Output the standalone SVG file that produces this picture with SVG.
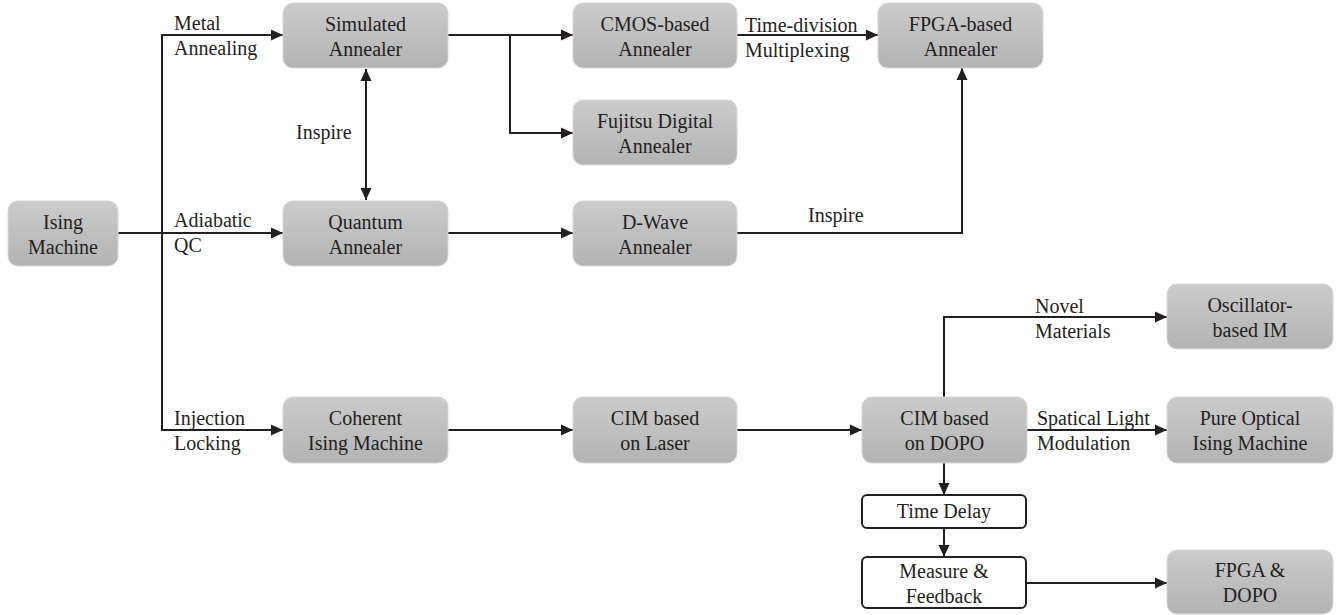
<svg xmlns="http://www.w3.org/2000/svg" width="1342" height="615" viewBox="0 0 1342 615" font-family="'Liberation Serif', 'DejaVu Serif', serif">
<defs>
<linearGradient id="g" x1="0" y1="0" x2="0" y2="1">
<stop offset="0" stop-color="#cbcbcc"/>
<stop offset="1" stop-color="#b3b3b4"/>
</linearGradient>
<marker id="ah" markerWidth="13" markerHeight="12" refX="12" refY="6" orient="auto-start-reverse" markerUnits="userSpaceOnUse">
<path d="M0,0.5 L12,6 L0,11.5 z" fill="#231f20"/>
</marker>
</defs>
<style>
.n{fill:url(#g);stroke:#d6d6d6;stroke-width:1}
.w{fill:#fff;stroke:#231f20;stroke-width:2}
text{font-family:'Liberation Serif','DejaVu Serif',serif;font-size:20px;fill:#231f20}
.c{text-anchor:middle}
.e{fill:none;stroke:#231f20;stroke-width:2}
.a{marker-end:url(#ah)}
</style>
<g id="connectors">
<path class="e" d="M118,233 H162"/>
<path class="e a" d="M162,233 H283"/>
<path class="e a" d="M162,233 V35 H283"/>
<path class="e a" d="M162,233 V430 H283"/>
<path class="e" d="M366,69 V200" marker-start="url(#ah)" marker-end="url(#ah)"/>
<path class="e a" d="M448,35 H573"/>
<path class="e a" d="M510,35 V133 H573"/>
<path class="e a" d="M737,35 H878"/>
<path class="e a" d="M448,233 H573"/>
<path class="e a" d="M737,233 H962 V68"/>
<path class="e a" d="M448,430 H573"/>
<path class="e a" d="M737,430 H862"/>
<path class="e a" d="M944,397 V317 H1167"/>
<path class="e a" d="M1027,430 H1167"/>
<path class="e a" d="M944,463 V495"/>
<path class="e a" d="M944,528 V557"/>
<path class="e a" d="M1027,583 H1167"/>
<text x="174" y="30">Metal</text>
<text x="174" y="55">Annealing</text>
<text x="174" y="227">Adiabatic</text>
<text x="174" y="252">QC</text>
<text x="174" y="425">Injection</text>
<text x="174" y="450">Locking</text>
<text x="296" y="139">Inspire</text>
<text x="745" y="32">Time-division</text>
<text x="745" y="57">Multiplexing</text>
<text x="808" y="222">Inspire</text>
<text x="1035" y="313">Novel</text>
<text x="1035" y="338">Materials</text>
<text x="1037" y="425">Spatical Light</text>
<text x="1037" y="450">Modulation</text>
</g>
<g id="ising">
<rect class="n" x="8" y="201" width="110" height="65" rx="10"/>
<text class="c" x="63" y="229">Ising</text>
<text class="c" x="63" y="254">Machine</text>
</g>
<g id="simulated">
<rect class="n" x="283" y="3" width="165" height="65" rx="10"/>
<text class="c" x="365.5" y="31">Simulated</text>
<text class="c" x="365.5" y="56">Annealer</text>
</g>
<g id="quantum">
<rect class="n" x="283" y="201" width="165" height="65" rx="10"/>
<text class="c" x="365.5" y="229">Quantum</text>
<text class="c" x="365.5" y="254">Annealer</text>
</g>
<g id="coherent">
<rect class="n" x="283" y="397" width="165" height="66" rx="10"/>
<text class="c" x="365.5" y="425">Coherent</text>
<text class="c" x="365.5" y="450">Ising Machine</text>
</g>
<g id="cmos">
<rect class="n" x="573" y="3" width="164" height="65" rx="10"/>
<text class="c" x="655" y="31">CMOS-based</text>
<text class="c" x="655" y="56">Annealer</text>
</g>
<g id="fujitsu">
<rect class="n" x="573" y="100" width="164" height="65" rx="10"/>
<text class="c" x="655" y="128">Fujitsu Digital</text>
<text class="c" x="655" y="153">Annealer</text>
</g>
<g id="dwave">
<rect class="n" x="573" y="201" width="164" height="65" rx="10"/>
<text class="c" x="655" y="229">D-Wave</text>
<text class="c" x="655" y="254">Annealer</text>
</g>
<g id="laser">
<rect class="n" x="573" y="397" width="164" height="66" rx="10"/>
<text class="c" x="655" y="425">CIM based</text>
<text class="c" x="655" y="450">on Laser</text>
</g>
<g id="fpga">
<rect class="n" x="878" y="3" width="165" height="65" rx="10"/>
<text class="c" x="960.5" y="31">FPGA-based</text>
<text class="c" x="960.5" y="56">Annealer</text>
</g>
<g id="dopo">
<rect class="n" x="862" y="397" width="165" height="66" rx="10"/>
<text class="c" x="944.5" y="425">CIM based</text>
<text class="c" x="944.5" y="450">on DOPO</text>
</g>
<g id="oscillator">
<rect class="n" x="1167" y="284" width="166" height="65" rx="10"/>
<text class="c" x="1250" y="312">Oscillator-</text>
<text class="c" x="1250" y="337">based IM</text>
</g>
<g id="optical">
<rect class="n" x="1167" y="397" width="166" height="66" rx="10"/>
<text class="c" x="1250" y="425">Pure Optical</text>
<text class="c" x="1250" y="450">Ising Machine</text>
</g>
<g id="timedelay">
<rect class="w" x="862" y="495" width="164" height="33" rx="5"/>
<text class="c" x="944" y="518">Time Delay</text>
</g>
<g id="measure">
<rect class="w" x="862" y="557" width="164" height="51" rx="5"/>
<text class="c" x="944" y="578">Measure &amp;</text>
<text class="c" x="944" y="603">Feedback</text>
</g>
<g id="fpgadopo">
<rect class="n" x="1167" y="550" width="166" height="64" rx="10"/>
<text class="c" x="1250" y="577">FPGA &amp;</text>
<text class="c" x="1250" y="602">DOPO</text>
</g>
</svg>
